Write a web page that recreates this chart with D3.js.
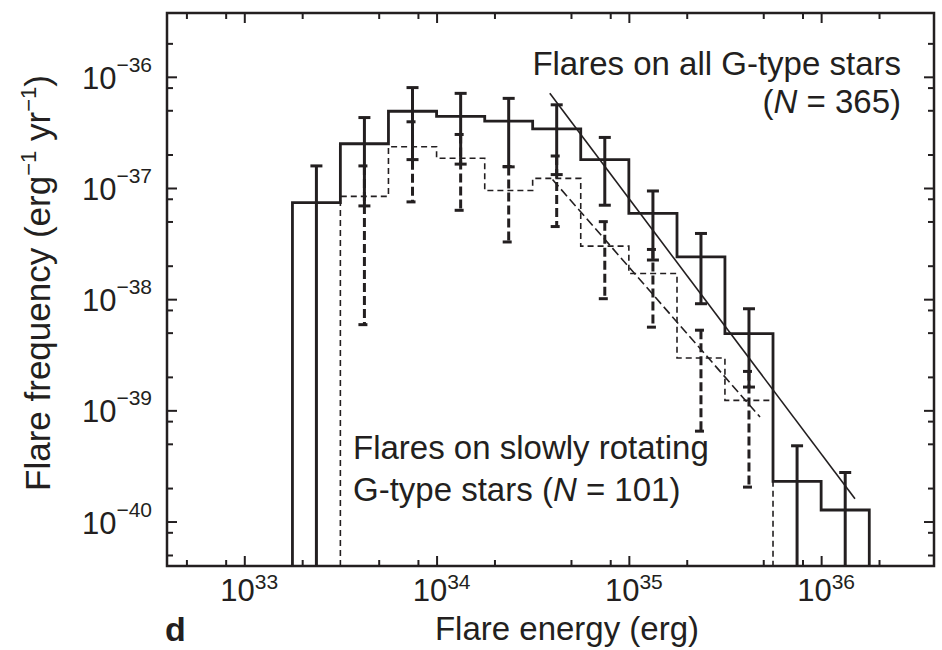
<!DOCTYPE html>
<html>
<head>
<meta charset="utf-8">
<script src="https://cdn.jsdelivr.net/npm/d3@7"></script>
<style>
body { margin: 0; background: #fff; }
svg text { font-family: "Liberation Sans", Arial, Helvetica, sans-serif; fill: #231f20; }
</style>
</head>
<body>
<svg id="chart" width="942" height="650"></svg>
<script>

// bin edges in erg (0.25 dex bins)
var binEdges = [1.78e33, 3.16e33, 5.62e33, 1.0e34, 1.78e34, 3.16e34, 5.62e34,
                1.0e35, 1.78e35, 3.16e35, 5.62e35, 1.0e36, 1.78e36];

// flares on all G-type stars (N = 365); null lower = bar runs off the axis
var allFreq  = [7.4e-38, 2.5e-37, 4.9e-37, 4.4e-37, 4.0e-37, 3.4e-37, 1.8e-37, 5.9e-38, 2.4e-38, 4.9e-39, 2.3e-40, 1.27e-40];
var allUpper = [1.58e-37, 4.3e-37, 8.0e-37, 7.1e-37, 6.4e-37, 5.6e-37, 2.85e-37, 9.4e-38, 3.9e-38, 8.2e-39, 4.8e-40, 2.76e-40];
var allLower = [null, 6.9e-38, 1.8e-37, 1.64e-37, 1.55e-37, 1.32e-37, 7.0e-38, 2.25e-38, 9.1e-39, 1.62e-39, null, null];

// flares on slowly rotating G-type stars (N = 101); null = empty bin
var slowFreq  = [null, 8.4e-38, 2.35e-37, 1.85e-37, 9.5e-38, 1.22e-37, 3.0e-38, 1.7e-38, 2.96e-39, 1.23e-39, null, null];
var slowUpper = [null, 1.58e-37, 3.94e-37, 3.03e-37, 1.56e-37, 1.94e-37, 4.98e-38, 2.8e-38, 5.26e-39, 2.24e-39, null, null];
var slowLower = [null, 5.9e-39, 7.5e-38, 6.3e-38, 3.27e-38, 4.5e-38, 1.01e-38, 5.6e-39, 6.5e-40, 2.04e-40, null, null];

// power-law fits, end points [energy, frequency]
var fitAll  = [[3.88e34, 7.1e-37], [1.50e36, 1.6e-40]];
var fitSlow = [[4.01e34, 1.19e-37], [4.81e35, 8.7e-40]];

var xMajor = [1e33, 1e34, 1e35, 1e36];
var xTickExps = ['33', '34', '35', '36'];
var yMajor = [1e-36, 1e-37, 1e-38, 1e-39, 1e-40];
var yTickExps = ['\u221236', '\u221237', '\u221238', '\u221239', '\u221240'];
var minorSteps = [2, 5, 8];

var ink = '#231f20';
var box = {'left': 167, 'right': 934, 'top': 13, 'bottom': 566};

var svg = d3.select('#chart');

var x = d3.scaleLog()
    .domain([Math.pow(10, 32.598), Math.pow(10, 36.587)])
    .range([box.left, box.right]);
var y = d3.scaleLog()
    .domain([Math.pow(10, -40.4), Math.pow(10, -35.426)])
    .range([box.bottom, box.top]);
var yFloor = y.domain()[0];

function minorTicks(scale) {
    var dom = scale.domain(), out = [];
    var lo = Math.floor(Math.log10(dom[0])), hi = Math.ceil(Math.log10(dom[1]));
    for (var p = lo; p <= hi; p++) {
        minorSteps.forEach(function(m) {
            var v = m * Math.pow(10, p);
            if (v > dom[0] && v < dom[1]) out.push(v);
        });
    }
    return out;
}

svg.append('clipPath').attr('id', 'plotClip')
    .append('rect')
    .attr('x', box.left).attr('y', box.top)
    .attr('width', box.right - box.left).attr('height', box.bottom - box.top);

var plot = svg.append('g').attr('clip-path', 'url(#plotClip)');

// step outline of a histogram
function stepPoints(freq) {
    var pts = [];
    freq.forEach(function(f, i) {
        if (f == null) return;
        if (pts.length == 0) pts.push([binEdges[i], yFloor]);
        pts.push([binEdges[i], f]);
        pts.push([binEdges[i + 1], f]);
        if (i == freq.length - 1 || freq[i + 1] == null) pts.push([binEdges[i + 1], yFloor]);
    });
    return pts;
}

var line = d3.line()
    .x(function(d) { return x(d[0]); })
    .y(function(d) { return y(d[1]); });

function drawErrors(upper, lower, cls, dash) {
    var bars = upper.map(function(u, i) {
        return {'e': Math.sqrt(binEdges[i] * binEdges[i + 1]), 'hi': u, 'lo': lower[i]};
    }).filter(function(d) { return d.hi != null; });

    var g = plot.append('g').attr('class', cls)
        .attr('stroke', ink).attr('stroke-width', 3).attr('fill', 'none')
        .attr('stroke-dasharray', dash);

    g.selectAll('line.stem').data(bars).enter().append('line')
        .attr('class', 'stem')
        .attr('x1', function(d) { return x(d.e); })
        .attr('x2', function(d) { return x(d.e); })
        .attr('y1', function(d) { return y(d.hi); })
        .attr('y2', function(d) { return y(d.lo == null ? yFloor : d.lo); });

    var caps = [];
    bars.forEach(function(d) {
        caps.push({'e': d.e, 'v': d.hi});
        if (d.lo != null) caps.push({'e': d.e, 'v': d.lo});
    });
    g.selectAll('line.cap').data(caps).enter().append('line')
        .attr('class', 'cap')
        .attr('x1', function(d) { return x(d.e) - 6; })
        .attr('x2', function(d) { return x(d.e) + 6; })
        .attr('y1', function(d) { return y(d.v); })
        .attr('y2', function(d) { return y(d.v); });
}

// slowly rotating sample (dashed)
plot.append('path')
    .attr('d', line(stepPoints(slowFreq)))
    .attr('fill', 'none').attr('stroke', ink)
    .attr('stroke-width', 1.6).attr('stroke-dasharray', '6,4');
drawErrors(slowUpper, slowLower, 'slowErr', '9,4');
plot.append('path')
    .attr('d', line(fitSlow))
    .attr('fill', 'none').attr('stroke', ink)
    .attr('stroke-width', 1.6).attr('stroke-dasharray', '9,4');

// all G-type stars (solid)
plot.append('path')
    .attr('d', line(stepPoints(allFreq)))
    .attr('fill', 'none').attr('stroke', ink)
    .attr('stroke-width', 2.8);
drawErrors(allUpper, allLower, 'allErr', null);
plot.append('path')
    .attr('d', line(fitAll))
    .attr('fill', 'none').attr('stroke', ink)
    .attr('stroke-width', 1.6);

// frame and inward ticks on all four sides
var axes = [
    {'gen': d3.axisBottom(x), 'tr': [0, box.bottom], 'maj': xMajor, 'min': minorTicks(x)},
    {'gen': d3.axisTop(x), 'tr': [0, box.top], 'maj': xMajor, 'min': minorTicks(x)},
    {'gen': d3.axisLeft(y), 'tr': [box.left, 0], 'maj': yMajor, 'min': minorTicks(y)},
    {'gen': d3.axisRight(y), 'tr': [box.right, 0], 'maj': yMajor, 'min': minorTicks(y)}
];
axes.forEach(function(a) {
    [[a.maj, 10], [a.min, 6]].forEach(function(t) {
        var g = svg.append('g')
            .attr('transform', 'translate(' + a.tr[0] + ',' + a.tr[1] + ')')
            .call(a.gen.tickValues(t[0]).tickSize(-t[1]).tickFormat(''));
        g.select('.domain').remove();
        g.selectAll('.tick line').attr('stroke', ink).attr('stroke-width', 2);
    });
});

svg.append('rect')
    .attr('x', box.left).attr('y', box.top)
    .attr('width', box.right - box.left).attr('height', box.bottom - box.top)
    .attr('fill', 'none').attr('stroke', ink).attr('stroke-width', 2.5);

// tick labels
xMajor.forEach(function(v, i) {
    var t = svg.append('text')
        .attr('x', x(v) + 5).attr('y', 601)
        .attr('text-anchor', 'middle').attr('font-size', 31);
    t.append('tspan').text('10');
    t.append('tspan').attr('dy', -12).attr('font-size', 21).text(xTickExps[i]);
});
yMajor.forEach(function(v, i) {
    var t = svg.append('text')
        .attr('x', 152).attr('y', y(v) + 12)
        .attr('text-anchor', 'end').attr('font-size', 31);
    t.append('tspan').text('10');
    t.append('tspan').attr('dy', -17).attr('font-size', 21).text(yTickExps[i]);
});

// axis titles
svg.append('text')
    .attr('x', 567).attr('y', 640)
    .attr('text-anchor', 'middle').attr('font-size', 33)
    .text('Flare energy (erg)');

var yt = svg.append('text')
    .attr('transform', 'translate(50,283) rotate(-90)')
    .attr('text-anchor', 'middle').attr('font-size', 35);
yt.append('tspan').text('Flare frequency (erg');
yt.append('tspan').attr('dy', -14).attr('font-size', 22).text('\u22121');
yt.append('tspan').attr('dy', 14).text(' yr');
yt.append('tspan').attr('dy', -14).attr('font-size', 22).text('\u22121');
yt.append('tspan').attr('dy', 14).text(')');

// annotations
svg.append('text')
    .attr('x', 901).attr('y', 75)
    .attr('text-anchor', 'end').attr('font-size', 33)
    .text('Flares on all G-type stars');
var n1 = svg.append('text')
    .attr('x', 901).attr('y', 113)
    .attr('text-anchor', 'end').attr('font-size', 33);
n1.append('tspan').text('(');
n1.append('tspan').attr('font-style', 'italic').text('N');
n1.append('tspan').text(' = 365)');

svg.append('text')
    .attr('x', 353).attr('y', 459)
    .attr('font-size', 33)
    .text('Flares on slowly rotating');
var n2 = svg.append('text')
    .attr('x', 353).attr('y', 501)
    .attr('font-size', 33);
n2.append('tspan').text('G-type stars (');
n2.append('tspan').attr('font-style', 'italic').text('N');
n2.append('tspan').text(' = 101)');

// panel letter
svg.append('text')
    .attr('x', 165).attr('y', 641)
    .attr('font-size', 34).attr('font-weight', 'bold')
    .text('d');

</script>
</body>
</html>
